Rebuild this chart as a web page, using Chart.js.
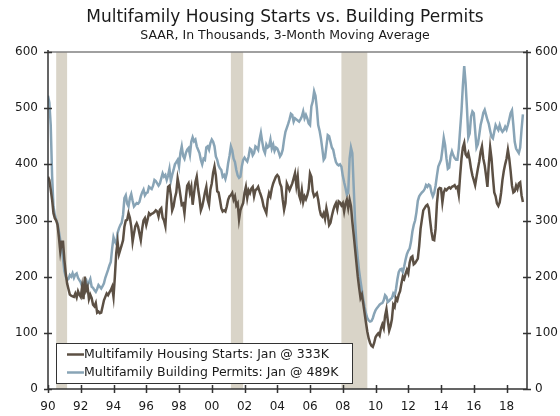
<!DOCTYPE html>
<html>
<head>
<meta charset="utf-8">
<script src="https://cdn.jsdelivr.net/npm/chart.js@4.4.0/dist/chart.umd.min.js"></script>
<style>
  body { margin: 0; background: #fff; }
  #wrap { width: 560px; height: 416px; }
</style>
</head>
<body>
<div id="wrap"><canvas id="chart"></canvas></div>
<script>
// monthly, Jan 1990 .. Jan 2019, 3-month moving average, thousands SAAR
var starts = [
  378, 372, 355, 337, 313, 304, 300, 292, 270, 245, 262, 262, // 1990
  230, 206, 188, 178, 168, 166, 165, 164, 170, 163, 174, 168, // 1991
  164, 182, 160, 200, 176, 182, 160, 168, 162, 150, 147, 153, // 1992
  136, 138, 135, 136, 147, 158, 164, 170, 167, 172, 176, 182, // 1993
  164, 200, 242, 262, 240, 248, 256, 265, 289, 300, 301, 313, // 1994
  305, 289, 262, 277, 290, 295, 289, 277, 265, 285, 300, 304, // 1995
  292, 302, 313, 310, 312, 313, 315, 318, 316, 307, 319, 322, // 1996
  305, 300, 290, 330, 360, 362, 345, 318, 325, 340, 350, 375, // 1997
  362, 345, 328, 330, 313, 340, 362, 366, 350, 360, 328, 348, // 1998
  368, 378, 356, 340, 318, 325, 337, 350, 360, 337, 328, 355, // 1999
  366, 385, 396, 380, 352, 350, 337, 322, 316, 318, 316, 325, // 2000
  337, 343, 345, 349, 337, 343, 327, 331, 302, 318, 325, 331, // 2001
  349, 360, 340, 354, 349, 357, 360, 343, 354, 356, 360, 352, // 2002
  345, 337, 325, 319, 313, 337, 349, 343, 357, 366, 372, 378, // 2003
  381, 378, 366, 360, 337, 319, 331, 366, 360, 354, 360, 366, // 2004
  375, 384, 362, 378, 345, 337, 354, 333, 343, 338, 345, 356, // 2005
  384, 378, 352, 343, 346, 349, 337, 320, 310, 307, 313, 303, // 2006
  322, 310, 292, 296, 308, 318, 326, 331, 320, 334, 332, 327, // 2007
  331, 316, 330, 337, 322, 337, 326, 298, 275, 250, 225, 200, // 2008
  180, 162, 168, 152, 135, 118, 102, 90, 82, 77, 75, 82,      // 2009
  92, 96, 99, 95, 108, 115, 108, 130, 142, 122, 104, 112,     // 2010
  124, 150, 146, 162, 158, 168, 174, 188, 200, 196, 205, 212, // 2011
  206, 225, 234, 236, 222, 224, 228, 232, 255, 285, 302, 318, // 2012
  322, 326, 328, 322, 300, 280, 266, 265, 285, 330, 355, 358, // 2013
  357, 332, 350, 356, 354, 357, 359, 357, 360, 361, 363, 358, // 2014
  360, 346, 380, 410, 430, 438, 418, 414, 420, 408, 392, 380, // 2015
  372, 363, 378, 392, 405, 422, 432, 410, 398, 380, 360, 400, // 2016
  430, 410, 378, 350, 343, 330, 326, 332, 349, 372, 388, 400, // 2017
  410, 426, 410, 388, 362, 350, 352, 362, 356, 366, 368, 345, // 2018
  333                                                         // 2019
];
var permits = [
  522, 510, 470, 380, 325, 310, 301, 295, 280, 265, 254, 232, // 1990
  210, 200, 194, 196, 203, 200, 206, 198, 204, 206, 198, 194, // 1991
  190, 182, 186, 192, 194, 185, 190, 196, 182, 180, 176, 173, // 1992
  178, 185, 182, 179, 183, 188, 198, 205, 212, 220, 226, 250, // 1993
  270, 262, 258, 278, 286, 292, 296, 310, 340, 345, 330, 325, // 1994
  340, 347, 335, 325, 328, 331, 330, 333, 343, 350, 355, 345, // 1995
  349, 350, 360, 358, 356, 362, 372, 370, 366, 362, 366, 375, // 1996
  384, 378, 381, 372, 380, 392, 370, 381, 390, 400, 404, 408, // 1997
  396, 420, 432, 415, 410, 420, 426, 429, 417, 440, 448, 441, // 1998
  444, 432, 426, 420, 408, 400, 410, 408, 430, 432, 426, 438, // 1999
  444, 440, 432, 414, 408, 398, 393, 390, 378, 381, 374, 384, // 2000
  402, 415, 432, 425, 410, 404, 390, 380, 376, 378, 396, 408, // 2001
  412, 408, 405, 414, 428, 426, 416, 420, 432, 430, 426, 444, // 2002
  456, 440, 426, 420, 435, 430, 432, 444, 428, 435, 424, 430, // 2003
  428, 422, 414, 418, 426, 444, 458, 465, 472, 480, 490, 488, // 2004
  476, 482, 480, 478, 476, 480, 485, 494, 482, 488, 482, 473, // 2005
  470, 503, 512, 530, 522, 500, 470, 460, 446, 428, 408, 412, // 2006
  432, 452, 450, 440, 430, 426, 414, 404, 400, 398, 400, 396, // 2007
  380, 368, 358, 346, 350, 410, 430, 420, 360, 300, 258, 232, // 2008
  210, 192, 176, 160, 146, 134, 126, 122, 120, 121, 126, 134, // 2009
  140, 144, 147, 150, 152, 153, 158, 167, 164, 155, 157, 160, // 2010
  162, 170, 166, 178, 195, 208, 213, 214, 208, 218, 230, 240, // 2011
  246, 250, 262, 280, 292, 300, 315, 335, 343, 347, 350, 352, // 2012
  356, 363, 360, 364, 362, 350, 343, 349, 362, 380, 396, 402, // 2013
  408, 426, 447, 434, 410, 392, 394, 415, 423, 416, 411, 408, // 2014
  408, 428, 462, 495, 540, 575, 545, 500, 448, 455, 485, 494, // 2015
  491, 460, 430, 436, 452, 470, 480, 492, 497, 488, 479, 472, // 2016
  460, 449, 446, 458, 470, 465, 461, 470, 462, 458, 461, 467, // 2017
  462, 470, 480, 491, 496, 470, 440, 428, 424, 420, 430, 462, // 2018
  489                                                         // 2019
];
// recessions as [start month, end month] counted from Jan 1990
var recessions = [[6, 14], [134, 143], [215, 234]];
var xTickLabels = ['90', '92', '94', '96', '98', '00', '02', '04', '06', '08', '10', '12', '14', '16', '18'];
var yTicks = [0, 100, 200, 300, 400, 500, 600];
var legendLabels = ['Multifamily Housing Starts: Jan @ 333K', 'Multifamily Building Permits: Jan @ 489K'];

var brown = '#5c5044';
var blue = '#88a4b6';
var font = '"DejaVu Sans", Verdana, sans-serif';

function toPoints(arr) {
  return arr.map(function (v, i) { return { x: i, y: v }; });
}

var frame = {
  id: 'frame',
  beforeDatasetsDraw: function (chart) {
    var ctx = chart.ctx, a = chart.chartArea, x = chart.scales.x;
    ctx.save();
    ctx.fillStyle = '#d9d4c8';
    recessions.forEach(function (r) {
      var x0 = x.getPixelForValue(r[0]), x1 = x.getPixelForValue(r[1]);
      ctx.fillRect(x0, a.top, x1 - x0, a.bottom - a.top);
    });
    ctx.restore();
  },
  afterDraw: function (chart) {
    var ctx = chart.ctx, a = chart.chartArea;
    var x = chart.scales.x, y = chart.scales.y;
    ctx.save();
    // top frame line
    ctx.strokeStyle = '#808080';
    ctx.lineWidth = 1.5;
    ctx.beginPath();
    ctx.moveTo(a.left, a.top);
    ctx.lineTo(a.right, a.top);
    ctx.stroke();
    // axes
    ctx.strokeStyle = '#333';
    ctx.lineWidth = 1.5;
    ctx.beginPath();
    ctx.moveTo(a.left, a.top - 2); ctx.lineTo(a.left, a.bottom);
    ctx.moveTo(a.right, a.top - 2); ctx.lineTo(a.right, a.bottom);
    ctx.moveTo(a.left, a.bottom); ctx.lineTo(a.right, a.bottom);
    yTicks.forEach(function (v) {
      var py = Math.round(y.getPixelForValue(v)) + 0.5;
      ctx.moveTo(a.left - 4, py); ctx.lineTo(a.left + 4, py);
      ctx.moveTo(a.right - 4, py); ctx.lineTo(a.right + 4, py);
    });
    x.ticks.forEach(function (t) {
      var px = Math.round(x.getPixelForValue(t.value)) + 0.5;
      ctx.moveTo(px, a.bottom - 4); ctx.lineTo(px, a.bottom + 4);
    });
    ctx.stroke();

    // titles
    ctx.fillStyle = '#1a1a1a';
    ctx.textAlign = 'center';
    ctx.textBaseline = 'alphabetic';
    ctx.font = '17px ' + font;
    ctx.fillText('Multifamily Housing Starts vs. Building Permits', 285, 22);
    ctx.font = '12.5px ' + font;
    ctx.fillText('SAAR, In Thousands, 3-Month Moving Average', 285, 39);

    // legend box
    var lx = 56.5, ly = 343.5, lw = 296, lh = 40;
    ctx.fillStyle = '#fff';
    ctx.fillRect(lx, ly, lw, lh);
    ctx.strokeStyle = '#333';
    ctx.lineWidth = 1;
    ctx.strokeRect(lx, ly, lw, lh);
    var colors = [brown, blue];
    ctx.font = '12.5px ' + font;
    ctx.textAlign = 'left';
    ctx.textBaseline = 'middle';
    legendLabels.forEach(function (txt, i) {
      var ry = 354.5 + i * 18;
      ctx.strokeStyle = colors[i];
      ctx.lineWidth = 2.5;
      ctx.beginPath();
      ctx.moveTo(67, ry); ctx.lineTo(84, ry);
      ctx.stroke();
      ctx.fillStyle = '#1a1a1a';
      ctx.fillText(txt, 84, ry);
    });
    ctx.restore();
  }
};

new Chart(document.getElementById('chart'), {
  type: 'line',
  data: {
    datasets: [
      {
        label: legendLabels[0],
        data: toPoints(starts),
        borderColor: brown,
        borderWidth: 2.5,
        pointRadius: 0,
        tension: 0,
        yAxisID: 'y'
      },
      {
        label: legendLabels[1],
        data: toPoints(permits),
        borderColor: blue,
        borderWidth: 2.5,
        pointRadius: 0,
        tension: 0,
        yAxisID: 'y'
      }
    ]
  },
  options: {
    responsive: true,
    maintainAspectRatio: false,
    animation: false,
    layout: { padding: { top: 52, left: 0, right: 0, bottom: 0 } },
    plugins: {
      legend: { display: false },
      tooltip: { enabled: false }
    },
    scales: {
      x: {
        type: 'linear',
        min: 0,
        max: 351,
        grid: { display: false, drawTicks: true, tickLength: 4 },
        border: { display: false },
        afterBuildTicks: function (scale) {
          scale.ticks = xTickLabels.map(function (l, i) { return { value: i * 24 }; });
        },
        ticks: {
          autoSkip: false,
          maxRotation: 0,
          padding: 7,
          color: '#1a1a1a',
          font: { family: font, size: 12 },
          callback: function (v, i) { return xTickLabels[i]; }
        },
        afterFit: function (scale) { scale.height = 27; }
      },
      y: {
        position: 'left',
        min: 0,
        max: 600,
        grid: { display: false, drawTicks: true, tickLength: 4 },
        border: { display: false },
        ticks: { stepSize: 100, padding: 6, color: '#1a1a1a', font: { family: font, size: 12 } },
        afterFit: function (scale) { scale.width = 48; }
      },
      y2: {
        position: 'right',
        min: 0,
        max: 600,
        grid: { display: false, drawTicks: true, tickLength: 4 },
        border: { display: false },
        ticks: { stepSize: 100, padding: 4, color: '#1a1a1a', font: { family: font, size: 12 } },
        afterFit: function (scale) { scale.width = 33; }
      }
    }
  },
  plugins: [frame]
});
</script>
</body>
</html>
